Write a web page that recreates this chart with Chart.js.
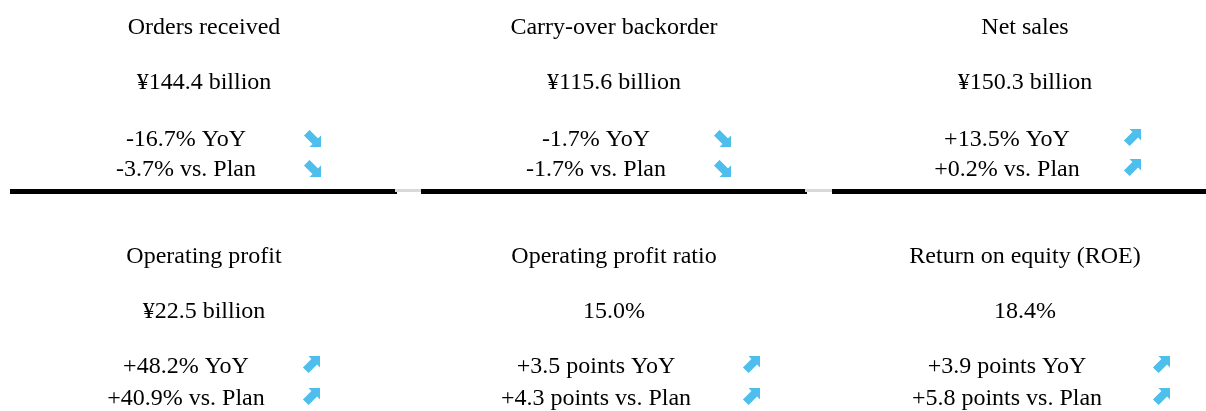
<!DOCTYPE html>
<html>
<head>
<meta charset="utf-8">
<script src="https://cdn.jsdelivr.net/npm/chart.js@4"></script>
<style>
  body { margin: 0; background: #fff; }
  #wrap { width: 1206px; height: 411px; }
</style>
</head>
<body>
<div id="wrap"><canvas id="kpi" width="1206" height="411"></canvas></div>
<script>
// KPI data
var titles = ['Orders received', 'Carry-over backorder', 'Net sales',
              'Operating profit', 'Operating profit ratio', 'Return on equity (ROE)'];
var values = ['¥144.4 billion', '¥115.6 billion', '¥150.3 billion',
              '¥22.5 billion', '15.0%', '18.4%'];
var yoy    = [-16.7, -1.7, 13.5, 48.2, 3.5, 3.9];
var vsPlan = [-3.7, -1.7, 0.2, 40.9, 4.3, 5.8];
var units  = ['%', '%', '%', '%', ' points', ' points'];

// layout (pixels on the x/y scales)
var titleX = [204, 614, 1025];
var textX  = [186, 596, 1007];
var arrowX = [312, 722, 1132, 311, 751, 1161];
var rowBase = [[34, 89, 146, 176], [263, 318, 373, 405]];

function fmt(v, u) {
  return (v > 0 ? '+' : '') + v.toFixed(1) + u;
}

// arrow image, pointing up-right; rotated 90deg for down-right
function makeArrow() {
  var c = document.createElement('canvas');
  c.width = 20; c.height = 20;
  var g = c.getContext('2d');
  g.fillStyle = '#4ebfec';
  g.beginPath();
  g.moveTo(19, 1);
  g.lineTo(19, 12.5);
  g.lineTo(16.1, 9.6);
  g.lineTo(7.6, 18.1);
  g.lineTo(1.9, 12.4);
  g.lineTo(10.4, 3.9);
  g.lineTo(7.5, 1);
  g.closePath();
  g.fill();
  return c;
}
var arrowImg = makeArrow();

var arrowPts = [], arrowSign = [];
for (var i = 0; i < titles.length; i++) {
  var r = Math.floor(i / 3);
  arrowPts.push({x: arrowX[i], y: rowBase[r][2] - 8});
  arrowSign.push(yoy[i]);
  arrowPts.push({x: arrowX[i], y: rowBase[r][3] - 8});
  arrowSign.push(vsPlan[i]);
}

function seg(x1, x2, y) { return [{x: x1, y: y}, {x: x2, y: y}]; }
var sepStyle = {type: 'line', pointRadius: 0, borderCapStyle: 'butt', fill: false};

var datasets = [
  Object.assign({data: seg(395, 421, 190.5), borderColor: '#d9d9d9', borderWidth: 3}, sepStyle),
  Object.assign({data: seg(805, 832, 190.5), borderColor: '#d9d9d9', borderWidth: 3}, sepStyle),
  Object.assign({data: seg(10, 397, 191.5), borderColor: '#000', borderWidth: 5}, sepStyle),
  Object.assign({data: seg(421, 807, 191.5), borderColor: '#000', borderWidth: 5}, sepStyle),
  Object.assign({data: seg(832, 1206, 191.5), borderColor: '#000', borderWidth: 5}, sepStyle),
  {
    type: 'scatter',
    data: arrowPts,
    pointStyle: arrowImg,
    pointRotation: function(ctx) { return arrowSign[ctx.dataIndex] < 0 ? 90 : 0; }
  }
];

var textPlugin = {
  id: 'kpiText',
  afterDatasetsDraw: function(chart) {
    var ctx = chart.ctx, xs = chart.scales.x, ys = chart.scales.y;
    ctx.save();
    ctx.fillStyle = '#000';
    ctx.font = '24px "Liberation Serif", "Times New Roman", serif';
    ctx.textAlign = 'center';
    ctx.textBaseline = 'alphabetic';
    for (var i = 0; i < titles.length; i++) {
      var r = Math.floor(i / 3), c = i % 3, b = rowBase[r];
      var tx = xs.getPixelForValue(titleX[c]);
      var lx = xs.getPixelForValue(textX[c]);
      ctx.fillText(titles[i], tx, ys.getPixelForValue(b[0]));
      ctx.fillText(values[i], tx, ys.getPixelForValue(b[1]));
      ctx.fillText(fmt(yoy[i], units[i]) + ' YoY', lx, ys.getPixelForValue(b[2]));
      ctx.fillText(fmt(vsPlan[i], units[i]) + ' vs. Plan', lx, ys.getPixelForValue(b[3]));
    }
    ctx.restore();
  }
};

new Chart(document.getElementById('kpi'), {
  type: 'scatter',
  data: {datasets: datasets},
  options: {
    responsive: false,
    animation: false,
    layout: {padding: 0, autoPadding: false},
    plugins: {legend: {display: false}, tooltip: {enabled: false}},
    scales: {
      x: {type: 'linear', min: 0, max: 1206, display: false},
      y: {type: 'linear', min: 0, max: 411, reverse: true, display: false}
    }
  },
  plugins: [textPlugin]
});
</script>
</body>
</html>
